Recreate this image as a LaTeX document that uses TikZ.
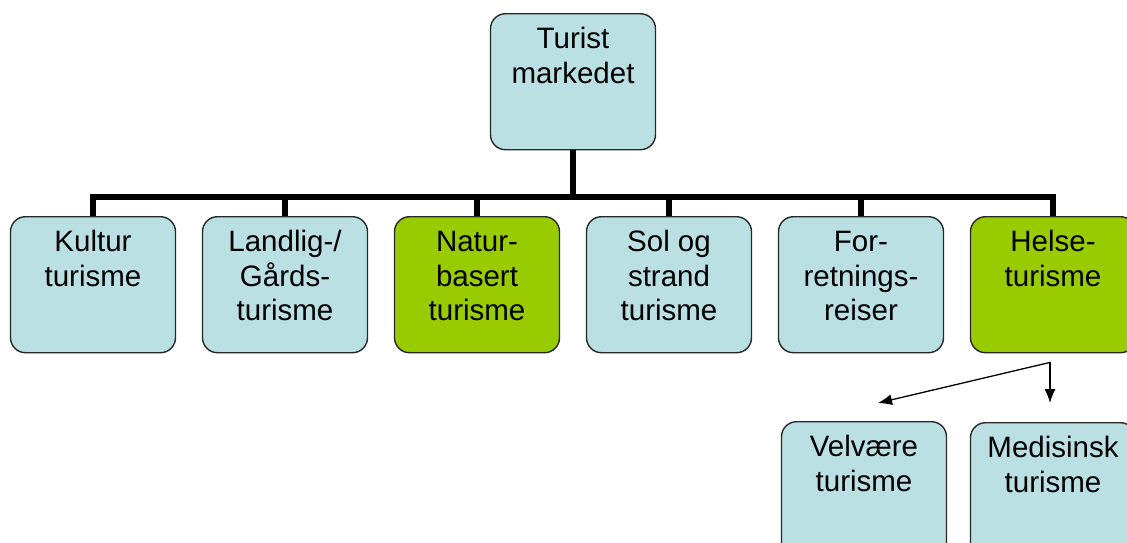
\documentclass[tikz,border=0pt]{standalone}
\usepackage{fontspec}
\setmainfont{Liberation Sans}
\usetikzlibrary{shapes}
\usetikzlibrary{arrows.meta}

\definecolor{boxblue}{RGB}{186,224,227}
\definecolor{boxgreen}{RGB}{153,204,0}
\definecolor{boxline}{RGB}{40,40,40}
\newcommand{\boxtext}[1]{\parbox[c][136pt][t]{164pt}{\centering\fontsize{29.5}{34.5}\selectfont\rule{0pt}{35pt}#1}}

\begin{document}
\begin{tikzpicture}[x=1pt,y=-1pt]
			\tikzstyle{box}=[rectangle,draw=boxline,line width=1.4pt,fill=boxblue,rounded corners=15pt,inner sep=0pt,minimum width=165pt,anchor=north]
			\tikzstyle{focus}=[fill=boxgreen]
			\tikzstyle{conn}=[line width=6pt]
			\tikzstyle{arr}=[line width=1.3pt,-{Latex[length=14pt,width=11pt]}]
			
			\useasboundingbox (0,0) rectangle (1127,542);
			
			\node[box] (marked) at (573,13) {\boxtext{Turist\\markedet}};
			\node[box] (kultur) at (93,216) {\boxtext{Kultur\\turisme}};
			\node[box] (landlig) at (285,216) {\boxtext{Landlig-/\\Gårds-\\turisme}};
			\node[box,focus] (natur) at (477,216) {\boxtext{Natur-\\basert\\turisme}};
			\node[box] (sol) at (669,216) {\boxtext{Sol og\\strand\\turisme}};
			\node[box] (forr) at (861,216) {\boxtext{For-\\retnings-\\reiser}};
			\node[box,focus] (helse) at (1053,216) {\boxtext{Helse-\\turisme}};
			\node[box] (velvaere) at (864,421) {\boxtext{Velvære\\turisme}};
			\node[box] (medisinsk) at (1053,422) {\boxtext{Medisinsk\\turisme}};
			
			\coordinate (bus) at (573,197);
			\draw[conn] (marked.south) -- (bus);
			\draw[conn] (kultur.north) -- (kultur.north |- bus) -- (helse.north |- bus) -- (helse.north);
			\foreach \n in {landlig,natur,sol,forr}
				\draw[conn] (\n.north) -- (\n.north |- bus);
			
			\coordinate (split) at ([xshift=-3pt,yshift=-9pt]helse.south);
			\coordinate (velend) at ([xshift=14pt,yshift=18pt]velvaere.north);
			\draw[arr] (split) -- (velend);
			\draw[arr] (split) -- (split |- velend);
\end{tikzpicture}
\end{document}
